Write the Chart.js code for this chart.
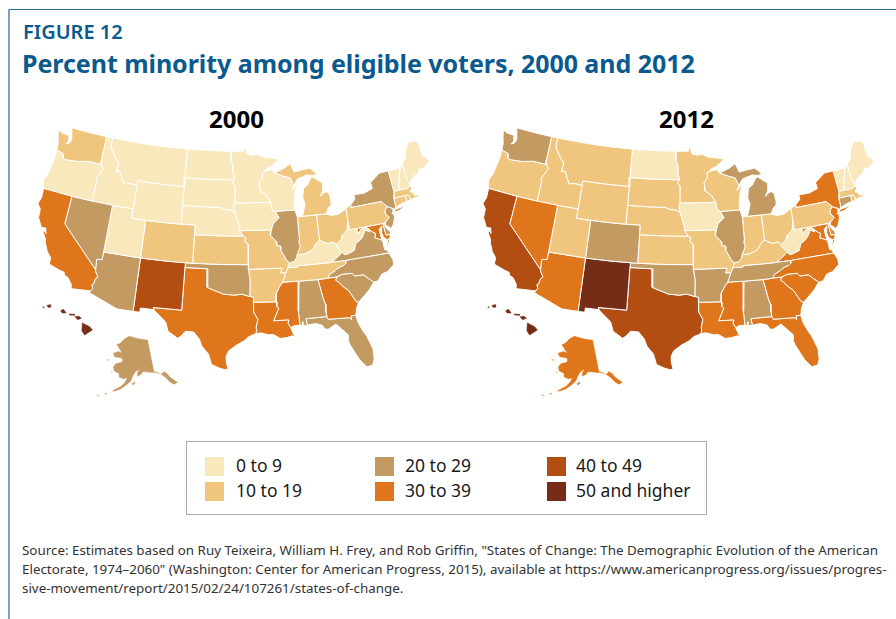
<!DOCTYPE html>
<html lang="en">
<head>
<meta charset="UTF-8">
<title>Percent minority among eligible voters, 2000 and 2012</title>
<script src="https://cdn.jsdelivr.net/npm/chart.js@4"></script>
<style>
  html, body { margin: 0; padding: 0; background: #fff; }
  body { position: relative; width: 896px; height: 619px; overflow: hidden; font-family: "Noto Sans", sans-serif; }
  #frameTop { position: absolute; left: 9px; top: 9px; width: 887px; height: 1px; background: #1f6a9b; }
  #frameLeft { position: absolute; left: 8px; top: 9px; width: 2px; height: 610px; background: #7ba3c5; }
  .txt { position: absolute; white-space: nowrap; }
  #kicker { left: 23px; top: 19px; font-size: 20px; font-weight: 600; color: #0b5a8e; line-height: 26px; }
  #heading { left: 22px; top: 45px; font-size: 25px; font-weight: 700; letter-spacing: -0.05px; color: #0b5a8e; line-height: 36px; }
  .year { top: 102px; font-size: 24px; font-weight: 700; color: #000; line-height: 34px; }
  canvas { position: absolute; top: 100px; }
  #legendBox { position: absolute; left: 186px; top: 441px; width: 519px; height: 72px; border: 1px solid #aaa; box-sizing: content-box; }
  .swatch { position: absolute; width: 19px; height: 19px; }
  .lab { position: absolute; font-size: 17.5px; color: #1a1a1a; line-height: 24px; white-space: nowrap; }
  #source { left: 22px; top: 540.5px; font-size: 13.38px; line-height: 19px; color: #333; }
</style>
</head>
<body>
<div id="frameTop"></div>
<div id="frameLeft"></div>
<div class="txt" id="kicker">FIGURE 12</div>
<div class="txt" id="heading">Percent minority among eligible voters, 2000 and 2012</div>
<div class="txt year" style="left:209px">2000</div>
<div class="txt year" style="left:659px">2012</div>
<canvas id="map2000" width="448" height="300" style="left:0"></canvas>
<canvas id="map2012" width="448" height="300" style="left:445px"></canvas>
<div id="legendBox"></div>
<div class="txt" id="source">Source: Estimates based on Ruy Teixeira, William H. Frey, and Rob Griffin, "States of Change: The Demographic Evolution of the American<br>Electorate, 1974–2060" (Washington: Center for American Progress, 2015), available at https://www.americanprogress.org/issues/progres-<br>sive-movement/report/2015/02/24/107261/states-of-change.</div>

<script>
// percent minority bins
var binLabels = ['0 to 9', '10 to 19', '20 to 29', '30 to 39', '40 to 49', '50 and higher'];
var binColors = ['#f9e8bb', '#f0c67f', '#c39a62', '#df761b', '#b34e12', '#762d18'];

var stateCodes = ['WA','OR','CA','NV','ID','MT','WY','UT','AZ','CO','NM','ND','SD','NE','KS','OK','TX','MN','IA','MO','AR','LA','WI','IL','MS','MI','IN','OH','KY','TN','AL','GA','FL','SC','NC','VA','WV','PA','NY','NJ','DE','MD','CT','RI','MA','VT','NH','ME','AK','HI'];
var bins2000 = [1,0,3,2,0,0,0,0,2,1,4,0,0,0,1,2,3,0,0,1,1,3,0,2,3,1,1,1,0,1,2,3,2,2,2,2,0,1,2,2,2,3,1,1,1,0,0,0,2,5];
var bins2012 = [2,1,4,3,1,1,1,1,3,2,5,0,1,1,1,2,4,1,0,1,2,3,1,2,3,2,1,1,1,2,2,3,3,3,3,3,0,1,3,3,2,3,2,1,1,0,0,0,3,5];

// state outlines: flat lists of degrees west, degrees north
var stateShapes = {
  WA: [[124.7,48.38,123.9,48.17,123.1,48.15,122.75,48.1,122.6,47.6,122.9,47.2,122.5,47.3,122.3,47.6,122.3,48.0,122.5,48.4,122.75,49,120,49,117.03,49,117.04,46.42,116.92,45.99,118.98,46,119.3,45.93,120.5,45.7,121.2,45.65,122.3,45.55,122.75,45.65,122.9,46.1,123.4,46.2,124,46.27,124.05,46.7,124.1,47,124.4,47.6]],
  OR: [[124,46.27,123.4,46.2,122.9,46.1,122.75,45.65,122.3,45.55,121.2,45.65,120.5,45.7,119.3,45.93,118.98,46,116.92,45.99,116.46,45.6,116.85,44.9,117.22,44.4,117.03,44.2,117.03,42,120,42,124.2,42,124.55,42.85,124.2,43.6,124.05,44.7,123.95,45.6]],
  CA: [[124.2,42,120,42,120,39,114.63,35,114.57,34.8,114.14,34.3,114.43,34.05,114.53,33.5,114.72,33.4,114.52,33.03,114.72,32.72,117.12,32.53,117.3,33,117.9,33.6,118.4,33.75,118.5,34.03,119.2,34.15,120.5,34.45,120.65,34.6,120.65,35.15,121.3,35.7,121.9,36.6,122,36.95,122.5,37.5,122.5,37.8,122.1,37.5,122.3,37.9,122.3,38.05,122.95,38,123.7,38.9,123.8,39.8,124.35,40.3,124.1,41]],
  NV: [[120,42,117.03,42,114.04,42,114.04,37,114.05,36.2,114.75,36.1,114.63,35,120,39]],
  ID: [[117.03,49,116.05,49,116.05,48,115.72,47.7,115.3,47.25,114.6,46.65,114.35,46.65,114.45,45.55,113.95,45.7,113.45,45.05,113,44.45,112.3,44.55,111.5,44.55,111.05,44.48,111.05,42,114.04,42,117.03,42,117.03,44.2,117.22,44.4,116.85,44.9,116.46,45.6,116.92,45.99,117.04,46.42]],
  MT: [[116.05,49,111,49,107,49,104.05,49,104.05,45.94,104.05,45,107.5,45,111.05,45,111.05,44.48,111.5,44.55,112.3,44.55,113,44.45,113.45,45.05,113.95,45.7,114.45,45.55,114.35,46.65,114.6,46.65,115.3,47.25,115.72,47.7,116.05,48]],
  WY: [[111.05,45,107.5,45,104.05,45,104.05,43,104.05,41,107.5,41,111.05,41,111.05,42,111.05,44.48]],
  UT: [[114.04,42,111.05,42,111.05,41,109.05,41,109.05,37,114.04,37]],
  AZ: [[114.04,37,109.05,37,109.05,31.33,111.07,31.33,114.81,32.5,114.72,32.72,114.52,33.03,114.72,33.4,114.53,33.5,114.43,34.05,114.14,34.3,114.57,34.8,114.63,35,114.75,36.1,114.05,36.2]],
  CO: [[109.05,41,105.5,41,102.05,41,102.05,40,102.05,37,105.5,37,109.05,37]],
  NM: [[109.05,37,105.5,37,103,37,103.04,36.5,103.05,32,106.62,32,106.53,31.78,108.21,31.78,108.21,31.33,109.05,31.33]],
  ND: [[104.05,49,100,49,97.23,49,97.1,48,96.85,47.6,96.8,46.9,96.56,45.94,100.3,45.94,104.05,45.94]],
  SD: [[104.05,45.94,100.3,45.94,96.56,45.94,96.85,45.6,96.45,45.3,96.45,43.5,96.6,43.05,96.44,42.49,97,42.75,97.9,42.8,98.5,43,101,43,104.05,43,104.05,45]],
  NE: [[104.05,43,101,43,98.5,43,97.9,42.8,97,42.75,96.44,42.49,96.1,41.7,95.85,41,95.77,40.58,95.3,40,98,40,102.05,40,102.05,41,104.05,41]],
  KS: [[102.05,40,98,40,95.3,40,94.9,39.8,95.1,39.5,94.62,39.1,94.62,37,98,37,102.05,37]],
  OK: [[103,37,102.05,37,98,37,94.62,37,94.62,36.5,94.43,35.4,94.48,33.64,95.5,33.9,96.5,33.8,97.2,33.85,97.9,33.9,98.5,34.1,99.2,34.3,100,34.56,100,36.5,103.04,36.5]],
  TX: [[103.04,36.5,100,36.5,100,34.56,99.2,34.3,98.5,34.1,97.9,33.9,97.2,33.85,96.5,33.8,95.5,33.9,94.48,33.64,94.04,33.55,94.04,33.02,94.04,32,93.55,31.2,93.8,30.3,93.7,30.1,93.85,29.7,94.7,29.4,95.2,29,96.2,28.5,97.1,27.9,97.4,27.3,97.35,26.6,97.15,25.96,97.5,25.87,98.2,26.05,99.1,26.4,99.5,27.5,100.3,28.3,100.7,29.1,101.4,29.77,102.4,29.8,102.9,29.25,103.3,29,104.5,29.65,104.9,30.6,106,31.4,106.53,31.78,106.62,32,103.05,32]],
  MN: [[97.23,49,95.15,49,95.15,49.38,94.8,49.3,94.6,48.72,93.8,48.55,92.95,48.62,92,48.3,90.8,48.2,89.6,48,90.8,47.3,91.5,47.1,92.1,46.75,92.29,46.66,92.29,46.1,92.85,45.6,92.75,45.1,92.75,44.75,91.9,44.3,91.22,43.5,93,43.5,96.45,43.5,96.45,45.3,96.85,45.6,96.56,45.94,96.8,46.9,96.85,47.6,97.1,48]],
  IA: [[96.45,43.5,93,43.5,91.22,43.5,91.1,42.7,90.65,42.5,90.15,41.8,91.05,41.2,91.42,40.38,91.7,40.6,93,40.58,95.77,40.58,95.85,41,96.1,41.7,96.44,42.49,96.6,43.05]],
  MO: [[95.77,40.58,93,40.58,91.7,40.6,91.42,40.38,91.5,40,90.75,39.3,90.7,38.9,90.15,38.8,90.2,38.4,89.5,37.3,89.15,37,89.4,36.5,89.7,36,90.38,36,90.15,36.5,94.62,36.5,94.62,37,94.62,39.1,95.1,39.5,94.9,39.8,95.3,40]],
  AR: [[94.62,36.5,90.15,36.5,90.38,36,89.7,36,89.95,35.5,90.2,35,90.6,34.6,91.1,33.9,91.17,33,94.04,33.02,94.04,33.55,94.48,33.64,94.43,35.4]],
  LA: [[94.04,33.02,91.17,33,91.1,32.5,90.9,32.3,91.6,31,89.73,31,89.85,30.65,89.55,30.18,89.4,29.8,89.1,29.1,89.4,29.3,90.1,29.15,90.9,29.1,91.7,29.55,92.3,29.55,93.2,29.78,93.85,29.7,93.7,30.1,93.8,30.3,93.55,31.2,94.04,32]],
  WI: [[92.29,46.66,92.1,46.75,90.8,46.95,90.4,46.55,89.1,46.15,88.1,45.92,87.8,45.35,87.6,45.1,88,44.55,87.05,45.25,87.55,44.3,87.85,43,87.8,42.5,90.65,42.5,91.1,42.7,91.22,43.5,91.9,44.3,92.75,44.75,92.75,45.1,92.85,45.6,92.29,46.1]],
  IL: [[90.65,42.5,87.8,42.5,87.53,41.72,87.53,39.35,87.65,39.1,87.5,38.6,88.03,37.8,88.1,37.5,88.5,37.1,89.15,37,89.5,37.3,90.2,38.4,90.15,38.8,90.7,38.9,90.75,39.3,91.5,40,91.42,40.38,91.05,41.2,90.15,41.8]],
  MS: [[91.17,33,91.1,33.9,90.6,34.6,90.2,35,88.2,35,88.1,34.9,88.47,31.9,88.4,30.35,89.05,30.38,89.55,30.18,89.85,30.65,89.73,31,91.6,31,90.9,32.3,91.1,32.5]],
  MI: [[86.8,41.76,84.8,41.76,83.45,41.73,83.15,42.05,83.05,42.3,82.5,42.6,82.45,43,82.6,43.85,82.95,44.07,83.4,43.95,83.9,43.65,83.4,44.3,83.3,45,84.7,45.78,85,45.7,85.6,45,86.25,44.7,86.5,43.7,86.25,43,86.6,42.2],
       [90.4,46.55,89.1,46.15,88.1,45.92,87.8,45.35,87.6,45.1,87,45.75,85.5,46.05,84.7,45.95,84,46,84.5,46.45,85,46.75,86.1,46.67,87.4,46.5,87.9,47.45,88.9,47,89.6,46.8]],
  IN: [[87.53,41.72,87.2,41.76,86.8,41.76,84.8,41.76,84.8,39.1,85.4,38.73,85.75,38.27,86.3,38,87.1,37.8,88.03,37.8,87.5,38.6,87.65,39.1,87.53,39.35]],
  OH: [[84.8,41.76,83.45,41.73,82.7,41.5,81.7,41.5,80.52,41.98,80.52,40.64,80.85,39.72,81.7,39.2,81.75,38.95,82.2,38.6,82.6,38.42,83,38.73,83.65,38.63,84.2,38.8,84.8,39.1]],
  KY: [[89.4,36.5,88.07,36.5,88.07,36.65,86,36.63,83.68,36.6,83.1,36.85,82.3,37.3,81.97,37.54,82.6,38.17,82.6,38.42,83,38.73,83.65,38.63,84.2,38.8,84.8,39.1,85.4,38.73,85.75,38.27,86.3,38,87.1,37.8,88.03,37.8,88.1,37.5,88.5,37.1,89.15,37]],
  TN: [[90.2,35,88.2,35,85.6,34.98,84.32,35,84,35.4,83.2,35.7,82.6,36,82.05,36.1,81.7,36.3,81.68,36.59,83.68,36.6,86,36.63,88.07,36.65,88.07,36.5,89.4,36.5,89.7,36,89.95,35.5]],
  AL: [[88.2,35,85.6,34.98,85.18,32.86,85,32.3,85.05,31.5,85,31,87.6,31,87.5,30.3,88,30.25,88,30.7,88.1,30.3,88.4,30.35,88.47,31.9,88.1,34.9]],
  GA: [[85.6,34.98,84.32,35,83.1,35,83.35,34.7,83,34.45,82.55,33.95,81.9,33.45,81.4,32.6,81.15,32.15,80.85,32.03,81.2,31.5,81.45,30.72,82,30.75,82.05,30.36,82.2,30.57,84.86,30.7,85,31,85.05,31.5,85,32.3,85.18,32.86]],
  FL: [[87.6,31,85,31,84.86,30.7,82.2,30.57,82.05,30.36,82,30.75,81.45,30.72,81.3,29.9,80.9,29,80.55,28.4,80.05,26.9,80.12,25.8,80.4,25.2,81.1,25.12,81.8,26,82.2,26.8,82.65,27.7,82.8,28.2,82.7,28.8,83.4,29.5,84,30.1,85,29.65,85.4,29.7,85.7,30.15,86.5,30.4,87.5,30.3]],
  SC: [[83.1,35,82.4,35.2,81.05,35.15,80.8,34.82,79.67,34.8,78.55,33.86,79.2,33.2,79.9,32.7,80.85,32.03,81.15,32.15,81.4,32.6,81.9,33.45,82.55,33.95,83,34.45,83.35,34.7]],
  NC: [[84.32,35,83.1,35,82.4,35.2,81.05,35.15,80.8,34.82,79.67,34.8,78.55,33.86,77.95,33.9,77.3,34.55,76.55,34.65,75.55,35.25,75.5,35.8,75.85,36.55,81.68,36.59,81.7,36.3,82.05,36.1,82.6,36,83.2,35.7,84,35.4]],
  VA: [[83.68,36.6,81.68,36.59,75.85,36.55,76,36.9,76.3,37,76.3,37.55,76.35,38,77,38.3,77.3,38.4,77.05,38.85,77.5,39.1,77.72,39.32,77.83,39.13,78.35,39.4,78.87,38.77,79.3,38.45,79.95,38.2,80.3,37.5,81.2,37.25,81.68,37.2,81.97,37.54,82.3,37.3,83.1,36.85],
       [75.95,37.15,75.6,37.55,75.25,38.03,75.65,37.95]],
  WV: [[82.6,38.42,82.6,38.17,81.97,37.54,81.68,37.2,81.2,37.25,80.3,37.5,79.95,38.2,79.3,38.45,78.87,38.77,78.35,39.4,77.83,39.13,77.72,39.32,78.2,39.68,78.4,39.6,78.8,39.6,79.48,39.2,79.48,39.72,80.52,39.72,80.52,40.64,80.85,39.72,81.7,39.2,81.75,38.95,82.2,38.6]],
  PA: [[80.52,41.98,79.76,42.27,79.76,42,75.35,42,74.7,41.36,75.1,41,75.2,40.7,74.73,40.2,75.4,39.8,75.79,39.72,79.48,39.72,80.52,39.72,80.52,40.64]],
  NY: [[79.76,42.27,79.76,42,75.35,42,74.7,41.36,73.9,41,74,40.75,73.65,41,73.5,41.3,73.5,42.05,73.26,42.75,73.35,45,74.7,45,76.3,44.2,76.2,43.55,77.5,43.25,79.05,43.27,79,42.8],
       [74,40.6,73.2,40.65,71.9,41.05,72.6,40.98,73.7,40.87]],
  NJ: [[74.7,41.36,75.1,41,75.2,40.7,74.73,40.2,75.4,39.8,75.55,39.5,75,39.2,74.9,38.95,74.4,39.4,74.05,40,74,40.45,74.25,40.5,74,40.75,73.9,41]],
  DE: [[75.79,39.72,75.4,39.8,75.6,39.45,75.4,39.05,75.1,38.8,75.05,38.45,75.7,38.46]],
  MD: [[79.48,39.72,75.79,39.72,75.7,38.46,75.05,38.45,75.25,38.03,75.65,37.95,76.1,38.3,76.25,38.9,76,39.5,76.45,39.2,76.45,38.5,76.35,38,77,38.3,77.3,38.4,77.05,38.85,77.5,39.1,77.72,39.32,78.2,39.68,78.4,39.6,78.8,39.6,79.48,39.2]],
  CT: [[73.5,42.05,71.8,42.02,71.8,41.4,72.9,41.25,73.65,41,73.5,41.3]],
  RI: [[71.8,42.02,71.38,42.02,71.15,41.5,71.4,41.45,71.85,41.32,71.8,41.4]],
  MA: [[73.5,42.05,71.8,42.02,71.38,42.02,71.15,41.5,70.65,41.55,70,41.6,69.95,41.75,70.05,42.05,70.25,42.05,70.05,41.8,70.5,41.8,70.75,42.2,71,42.3,70.6,42.65,70.85,42.87,71.3,42.7,72.45,42.73,73.26,42.75]],
  VT: [[73.26,42.75,72.45,42.73,72.3,43.5,72.05,44,71.5,45,73.35,45]],
  NH: [[72.45,42.73,71.3,42.7,70.85,42.87,70.7,43.07,71,43.6,71.08,45.3,71.5,45,72.05,44,72.3,43.5]],
  ME: [[70.7,43.07,71,43.6,71.08,45.3,70.4,45.8,70,46.7,69.2,47.45,68.3,47.35,67.8,47.07,67.8,45.7,67.45,45.3,67,44.85,68.2,44.3,68.8,44.4,69.1,44,70.2,43.6]],
  AK: [[156.5,71.3,152,70.85,148,70.4,144,70,141,69.65,141,60.3,139.5,60,137.5,59,135.5,59.75,134,58.8,133,57.5,131,56,130,55.3,132.5,55,134,56,135.5,57.5,136.5,58.3,138,59,140,59.7,143,60,145.5,60.4,148,60.5,148.5,59.9,151.5,59.2,151,60.8,150,61.2,152,60.7,153.5,59.5,154.5,58.2,157,56.8,160,55.5,163,54.7,164.8,54.6,162,55.8,160,56.5,158,57.8,157.3,58.8,159,58.5,162,59,162,60,165,60.5,166,61.6,164.8,62.8,161,63.5,161,64.5,166,64.5,168,65.6,164,66.5,162,66.2,163.8,67.1,166.5,68.3,163.5,69,161,70.3],
       [154.5,57.3,152.5,58,152.2,57.5,153.7,56.8],
       [167,60.2,165.7,60.3,166,59.8],
       [171.5,63.6,169,63.4,170,63],
       [168.5,53.6,166.5,54,166.5,53.4],
       [172,52.8,170,52.9,170,52.4]],
  HI: [[155.9,20.25,155.1,19.85,154.8,19.5,155.65,18.95,155.95,19.4],
       [156.7,20.9,156.25,20.95,156,20.75,156.4,20.58],
       [157.3,21.2,156.75,21.17,156.75,21.05,157.3,21.08],
       [158.25,21.55,157.95,21.7,157.65,21.3,158.1,21.3],
       [159.75,22.1,159.35,22.2,159.3,21.95,159.6,21.9],
       [160.2,21.9,160.1,22,160.05,21.85]]
};

// albers conic, returns [x, rho*cos] in projection units
function albers(lonW, lat, lon0, p1, p2) {
  var r = Math.PI / 180;
  var n = (Math.sin(p1 * r) + Math.sin(p2 * r)) / 2;
  var c = Math.pow(Math.cos(p1 * r), 2) + 2 * n * Math.sin(p1 * r);
  var rho = Math.sqrt(c - 2 * n * Math.sin(lat * r)) / n;
  var th = n * (lon0 - lonW) * r;
  return [rho * Math.sin(th), rho * Math.cos(th)];
}

// the lower 48 plus the two insets, in the chart's own units
function project(code, lonW, lat) {
  var p;
  if (code === 'AK') {
    p = albers(lonW, lat, 154, 55, 65);
    return { x: 132.3 + 197 * p[0], y: 260.7 + 197 * p[1] };
  }
  if (code === 'HI') {
    return { x: 86 + (155.5 - lonW) * 9.2, y: 329 - (lat - 19.6) * 9.4 };
  }
  p = albers(lonW, lat, 96, 29.5, 45.5);
  return { x: 238 + 543 * p[0], y: 130 + (p[1] - 1.0626) * 540 };
}

function ringPoints(code, ring) {
  var pts = [];
  for (var i = 0; i < ring.length; i += 2) {
    pts.push(project(code, ring[i], ring[i + 1]));
  }
  pts.push(pts[0]);
  return pts;
}

function buildDatasets(bins) {
  var sets = [];
  stateCodes.forEach(function(code, i) {
    var col = binColors[bins[i]];
    stateShapes[code].forEach(function(ring) {
      sets.push({
        label: code,
        data: ringPoints(code, ring),
        showLine: true,
        fill: 'shape',
        backgroundColor: col,
        borderColor: code === 'HI' ? col : '#fff',
        borderWidth: code === 'HI' ? 0.5 : (code === 'AK' ? 0.5 : 1),
        pointRadius: 0,
        pointHoverRadius: 0,
        tension: 0
      });
    });
  });
  return sets;
}

function drawMap(id, bins) {
  new Chart(document.getElementById(id), {
    type: 'scatter',
    data: { datasets: buildDatasets(bins) },
    options: {
      responsive: false,
      animation: false,
      layout: { padding: 0 },
      plugins: { legend: { display: false }, title: { display: false }, tooltip: { enabled: false } },
      scales: {
        x: { type: 'linear', display: false, min: 0, max: 448 },
        y: { type: 'linear', display: false, min: 100, max: 400, reverse: true }
      }
    }
  });
}

drawMap('map2000', bins2000);
drawMap('map2012', bins2012);

// legend, two rows by three columns
var legendBox = document.getElementById('legendBox');
var swatchX = [18, 188, 360];
var labelX = [49, 218, 389];
binLabels.forEach(function(txt, i) {
  var col = Math.floor(i / 2), row = i % 2;
  var s = document.createElement('div');
  s.className = 'swatch';
  s.style.left = swatchX[col] + 'px';
  s.style.top = (15 + row * 25) + 'px';
  s.style.background = binColors[i];
  legendBox.appendChild(s);
  var l = document.createElement('div');
  l.className = 'lab';
  l.style.left = labelX[col] + 'px';
  l.style.top = (11 + row * 25) + 'px';
  l.textContent = txt;
  legendBox.appendChild(l);
});
</script>
</body>
</html>
